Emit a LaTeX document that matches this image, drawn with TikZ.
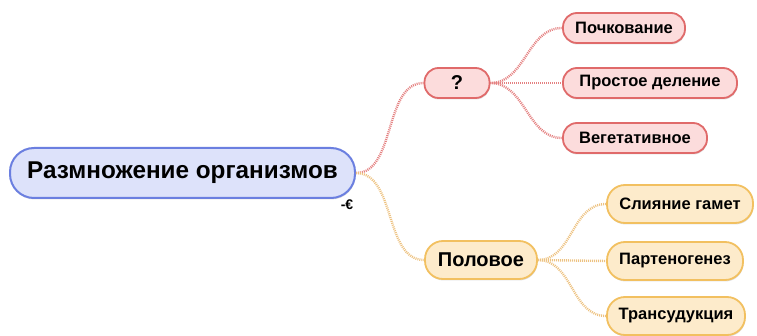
\documentclass[tikz,border=0pt]{standalone}
\usepackage{fontspec}
\setmainfont{Liberation Sans}
\usetikzlibrary{shadows}
\definecolor{rootfill}{HTML}{DDE2FA}
\definecolor{rootdraw}{HTML}{6B7FE0}
\definecolor{redfill}{HTML}{FCDCDC}
\definecolor{reddraw}{HTML}{E06A6A}
\definecolor{orfill}{HTML}{FDEBCB}
\definecolor{ordraw}{HTML}{F2C060}
\definecolor{redline}{HTML}{E48080}
\definecolor{orline}{HTML}{EDC280}
\tikzset{
  basebox/.style={rounded corners=14pt, line width=1.8pt, inner xsep=8pt, font=\bfseries, text=black,
    drop shadow={shadow xshift=0.5pt, shadow yshift=-1.5pt, opacity=0.25}},
  rootbox/.style={basebox, fill=rootfill, draw=rootdraw, minimum height=50pt, font=\fontsize{24.3}{27}\selectfont\bfseries, inner xsep=12pt, rounded corners=24pt, line width=2pt},
  redbox/.style={basebox, fill=redfill, draw=reddraw, minimum height=30pt},
  orbox/.style={basebox, fill=orfill, draw=ordraw, minimum height=38pt, rounded corners=18pt},
  smallfont/.style={font=\fontsize{16.5}{18}\selectfont\bfseries},
  bigfont/.style={font=\fontsize{20}{22}\selectfont\bfseries},
  redlink/.style={draw=redline, line width=2.4pt, dash pattern=on 1pt off 1pt},
  orlink/.style={draw=orline, line width=2.4pt, dash pattern=on 1pt off 1pt},
}
\begin{document}
\begin{tikzpicture}[x=1pt,y=-1pt]
\useasboundingbox (0,0) rectangle (757,336);
% nodes
\node[rootbox, minimum width=345pt] (root) at (182.5,173) {Размножение организмов};
\node[redbox, bigfont, minimum width=65pt] (q) at (457,83) {?};
\node[redbox, smallfont, minimum width=122pt] (r1) at (624,28) {Почкование};
\node[redbox, smallfont, minimum width=174pt] (r2) at (650,83) {Простое деление};
\node[redbox, smallfont, minimum width=144pt] (r3) at (635,138) {Вегетативное};
\node[orbox, bigfont, minimum width=112pt] (p) at (481,260) {Половое};
\node[orbox, smallfont, minimum width=146pt] (o1) at (680,204) {Слияние гамет};
\node[orbox, smallfont, minimum width=136pt] (o2) at (675,261) {Партеногенез};
\node[orbox, smallfont, minimum width=138pt] (o3) at (676,316) {Трансудукция};
\node[font=\fontsize{14}{15}\selectfont\bfseries] (eur) at (347,205) {-€};
% links
\path[redlink] (root.east) .. controls +(40,0) and +(-40,0) .. (q.west);
\path[orlink] (root.east) .. controls +(40,0) and +(-40,0) .. (p.west);
\path[redlink] (q.east) .. controls +(35,0) and +(-35,0) .. (r1.west);
\path[redlink] (q.east) -- (r2.west);
\path[redlink] (q.east) .. controls +(35,0) and +(-35,0) .. (r3.west);
\path[orlink] (p.east) .. controls +(35,0) and +(-35,0) .. (o1.west);
\path[orlink] (p.east) -- (o2.west);
\path[orlink] (p.east) .. controls +(35,0) and +(-35,0) .. (o3.west);
\end{tikzpicture}
\end{document}
